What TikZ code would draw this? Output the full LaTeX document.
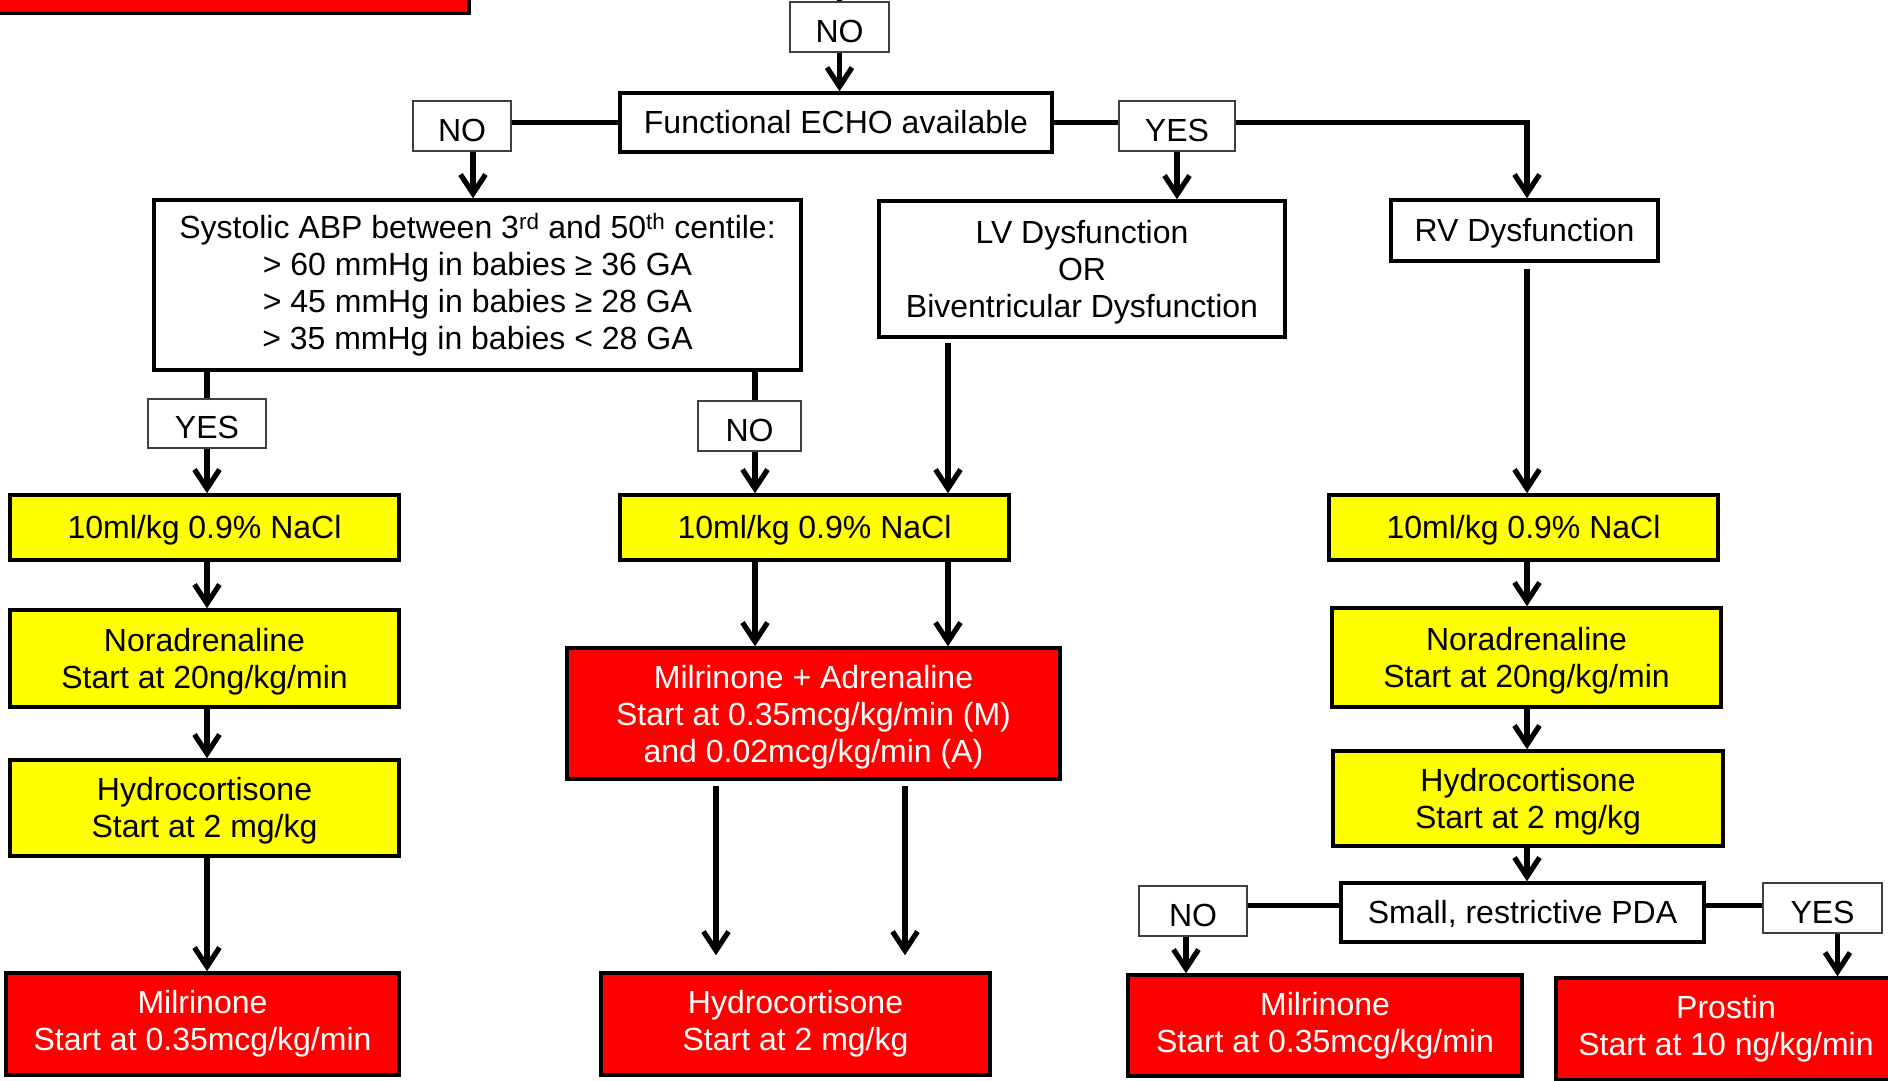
\documentclass[tikz,border=0pt]{standalone}
\usepackage{fontspec}
\setmainfont{Liberation Sans}
\usetikzlibrary{arrows.meta}
\definecolor{yel}{RGB}{255,255,0}
\definecolor{rd}{RGB}{255,0,0}
\newcommand\myhstrut[1][29.5pt]{\rule{0pt}{#1}}
\begin{document}
\begin{tikzpicture}[x=1pt,y=-1pt,
  txt/.style={align=center, inner sep=0pt, font=\fontsize{32}{37}\selectfont},
  pp/.style={text height=29pt, text depth=6.8pt},
  box/.style={txt, draw=black, line width=3.5pt},
  wbox/.style={box, fill=white},
  ybox/.style={box, fill=yel},
  rbox/.style={box, fill=rd, text=white},
  lab/.style={txt, draw=black!75, line width=1.5pt, fill=white, text height=30pt, text depth=0pt},
  conn/.style={line width=5.2pt},
  arr/.style={conn, -{Straight Barb[length=19pt,width=25pt,line width=5.2pt]}}]
\useasboundingbox (0,0) rectangle (1888,1080);
\fill[white] (0,0) rectangle (1888,1080);

% top-left partial red box
\node[rbox, minimum width=472pt, minimum height=40pt, anchor=south west] (topred) at (-5,15) {};

% top
\node[lab, minimum width=99pt, minimum height=50pt] (no0) at (839.5,27) {NO};
\node[wbox, minimum width=432pt, minimum height=59pt] (echo) at (836,122.5) {Functional ECHO available};
\node[lab, minimum width=98pt, minimum height=50pt] (noL) at (462,126) {NO};
\node[lab, minimum width=116pt, minimum height=50pt] (yesT) at (1177,126) {YES};

% second row
\node[wbox, minimum width=647pt, minimum height=170pt] (sys) at (477.5,285)
  {Systolic ABP between 3\textsuperscript{rd} and 50\textsuperscript{th} centile:\\
   > 60 mmHg in babies ≥ 36 GA\\
   > 45 mmHg in babies ≥ 28 GA\\
   > 35 mmHg in babies < 28 GA};
\node[wbox, minimum width=406pt, minimum height=136pt] (lv) at (1082,269)
  {\myhstrut LV Dysfunction\\OR\\Biventricular Dysfunction};
\node[wbox, pp, minimum width=267pt, minimum height=61pt] (rv) at (1524.5,230.5) {RV Dysfunction};

\node[lab, minimum width=118pt, minimum height=49pt] (yesA) at (207,423.5) {YES};
\node[lab, minimum width=103pt, minimum height=50pt] (noB) at (749.5,426) {NO};

% yellow row
\node[ybox, pp, minimum width=389pt, minimum height=65pt] (nacl1) at (204.5,527.5) {10ml/kg 0.9\% NaCl};
\node[ybox, pp, minimum width=389pt, minimum height=65pt] (nacl2) at (814.5,527.5) {10ml/kg 0.9\% NaCl};
\node[ybox, pp, minimum width=389pt, minimum height=65pt] (nacl3) at (1523.5,527.5) {10ml/kg 0.9\% NaCl};

\node[ybox, minimum width=389pt, minimum height=97pt] (nor1) at (204.5,658.5) {\myhstrut Noradrenaline\\Start at 20ng/kg/min};
\node[ybox, minimum width=389pt, minimum height=96pt] (hyd1) at (204.5,808) {\myhstrut Hydrocortisone\\Start at 2 mg/kg};
\node[rbox, minimum width=393pt, minimum height=102pt] (mil1) at (202.5,1024) {Milrinone\\Start at 0.35mcg/kg/min};

\node[rbox, minimum width=493pt, minimum height=131pt] (ma) at (813.5,713.5)
  {\myhstrut[31pt]Milrinone + Adrenaline\\Start at 0.35mcg/kg/min (M)\\and 0.02mcg/kg/min (A)};
\node[rbox, minimum width=389pt, minimum height=102pt] (hyd2) at (795.5,1024) {Hydrocortisone\\Start at 2 mg/kg};

\node[ybox, minimum width=389pt, minimum height=99pt] (nor3) at (1526.5,657.5) {\myhstrut Noradrenaline\\Start at 20ng/kg/min};
\node[ybox, minimum width=390pt, minimum height=95pt] (hyd3) at (1528,798.5) {\myhstrut Hydrocortisone\\Start at 2 mg/kg};
\node[wbox, pp, minimum width=363pt, minimum height=59pt] (pda) at (1522.5,912.5) {Small, restrictive PDA};
\node[lab, minimum width=108pt, minimum height=50pt] (noR) at (1193,911) {NO};
\node[lab, minimum width=119pt, minimum height=50pt] (yesR) at (1822.5,908) {YES};
\node[rbox, minimum width=394pt, minimum height=101pt] (mil3) at (1325,1025.5) {Milrinone\\Start at 0.35mcg/kg/min};
\node[rbox, minimum width=340pt, minimum height=102pt] (prostin) at (1726,1029) {Prostin\\Start at 10 ng/kg/min};

% connectors: top
\coordinate (topin) at (839,-5);
\draw[conn] (topin) -- (no0.north);
\draw[arr] (no0.south) -- (no0.south |- echo.north);
\draw[conn] (echo.west) -- (echo.west -| noL.east);
\draw[conn] (echo.east) -- (echo.east -| yesT.west);
\draw[arr] (echo.east -| yesT.east) -| ([xshift=2.5pt]rv.north);
\draw[arr] (yesT.south) -- (yesT.south |- lv.north);
\coordinate (c7) at ([xshift=11pt]noL.south);
\draw[arr] (c7) -- (c7 |- sys.north);

% systolic branches
\draw[conn] (sys.south -| yesA.north) -- (yesA.north);
\draw[arr] (yesA.south) -- (yesA.south |- nacl1.north);
\coordinate (c9) at ([xshift=5.5pt]noB.north);
\coordinate (c9b) at ([xshift=5.5pt]noB.south);
\draw[conn] (c9 |- sys.south) -- (c9);
\draw[arr] (c9b) -- (c9b |- nacl2.north);

% LV and RV
\coordinate (c10) at ([xshift=-134pt,yshift=-4pt]lv.south);
\draw[arr] (c10) -- (c10 |- nacl2.north);
\coordinate (c11) at ([xshift=2.5pt,yshift=-6pt]rv.south);
\draw[arr] (c11) -- (c11 |- nacl3.north);

% left column
\coordinate (c12) at ([xshift=2.5pt]nacl1.south);
\draw[arr] (c12) -- (c12 |- nor1.north);
\draw[arr] (c12 |- nor1.south) -- (c12 |- hyd1.north);
\draw[arr] (c12 |- hyd1.south) -- (c12 |- mil1.north);

% middle column
\draw[arr] (c9b |- nacl2.south) -- (c9b |- ma.north);
\draw[arr] (c10 |- nacl2.south) -- (c10 |- ma.north);
\coordinate (c14a) at ([xshift=-97.5pt,yshift=-5pt]ma.south);
\coordinate (c14b) at ([xshift=91.5pt,yshift=-5pt]ma.south);
\draw[arr, shorten >=16pt] (c14a) -- (c14a |- hyd2.north);
\draw[arr, shorten >=16pt] (c14b) -- (c14b |- hyd2.north);

% right column
\draw[arr] (c11 |- nacl3.south) -- (c11 |- nor3.north);
\draw[arr] (c11 |- nor3.south) -- (c11 |- hyd3.north);
\draw[arr] (c11 |- hyd3.south) -- (c11 |- pda.north);
\coordinate (c16) at ([yshift=7pt]pda.west);
\coordinate (c16b) at ([yshift=7pt]pda.east);
\draw[conn] (c16) -- (c16 -| noR.east);
\draw[conn] (c16b) -- (c16b -| yesR.west);
\coordinate (c17) at ([xshift=-7pt]noR.south);
\draw[arr] (c17) -- (c17 |- mil3.north);
\coordinate (c18) at ([xshift=15pt]yesR.south);
\draw[arr] (c18) -- (c18 |- prostin.north);
\end{tikzpicture}
\end{document}
